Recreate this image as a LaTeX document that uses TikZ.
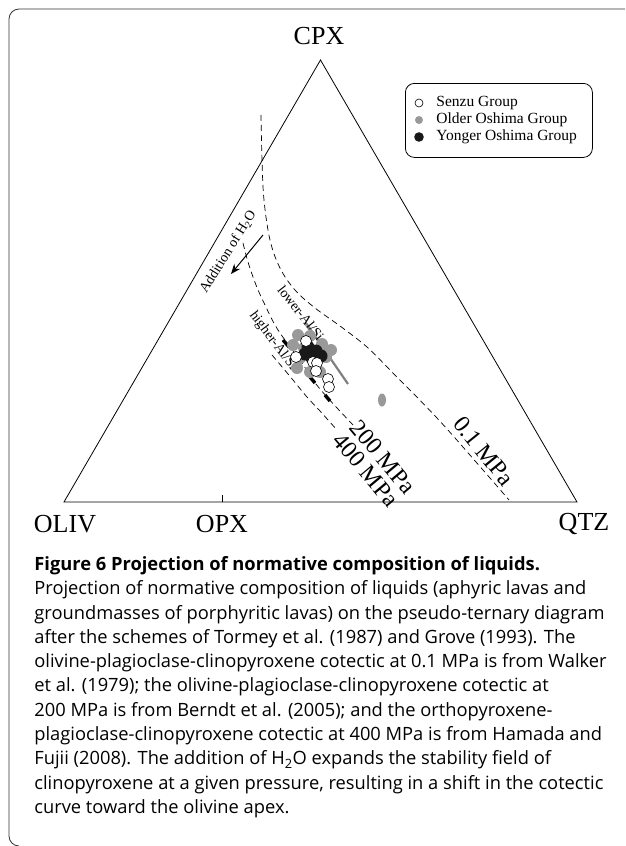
\documentclass[tikz,border=0pt]{standalone}
\usepackage{fontspec}
\setmainfont{Liberation Serif}
\newfontfamily\capfont{Open Sans}
\usetikzlibrary{arrows.meta}

\begin{document}
\begin{tikzpicture}[x=1pt, y=-1pt, line width=0.8pt,
    cotectic/.style={dash pattern=on 6pt off 4pt, line width=0.7pt},
    apexlabel/.style={font=\fontsize{26}{26}\selectfont, inner sep=0pt},
    pressure/.style={font=\fontsize{24}{24}\selectfont, inner sep=0pt},
    smalllabel/.style={font=\fontsize{14}{14}\selectfont, inner sep=0pt},
    legendtext/.style={font=\fontsize{15.5}{15.5}\selectfont, anchor=west, inner sep=0pt},
    senzu/.style={draw=black, fill=white, line width=0.6pt},
    older/.style={fill=black!40},
    younger/.style={fill=black!90},
    alsi/.style={line width=3.4pt}]
  \useasboundingbox (0,0) rectangle (625,846);

  % frame
  \draw[black!80, rounded corners=10pt] (625,9) -| (9,846) -- (18,846);

  % ternary
  \coordinate (cpxV) at (320.5,60);
  \coordinate (olivV) at (64,502);
  \coordinate (qtzV) at (577,502);
  \coordinate (opxV) at (222,502);
  \coordinate (opxT) at (222,495);
  \draw (olivV) -- (cpxV) -- (qtzV) -- cycle;
  \draw (opxV) -- (opxT);

  \node[apexlabel] (cpx) at (319,36) {CPX};
  \node[apexlabel] (oliv) at (65,524) {OLIV};
  \node[apexlabel] (opx) at (222,524) {OPX};
  \node[apexlabel] (qtz) at (584,524) {QTZ};

  % cotectics
  \draw[cotectic] plot[smooth, tension=0.6] coordinates {(261,115) (262,160) (264,200) (270,240)
    (280,268) (295,290) (315,308) (340,326) (367,347) (390,370) (437,418) (483,470) (509,500)};
  \draw[cotectic] plot[smooth, tension=0.6] coordinates {(243,243) (248,262) (256,285) (265,305)
    (278,330) (300,360) (313,380) (327,397) (353,425)};
  \draw[cotectic] plot[smooth, tension=0.6] coordinates {(272,355) (283,368) (293,380) (307,397)
    (320,411) (337,430)};

  \node[pressure, rotate=-51] (p01) at (484,451) {0.1 MPa};
  \node[pressure, rotate=-50] (p200) at (383,457) {200 MPa};
  \node[pressure, rotate=-50] (p400) at (366,470) {400 MPa};

  % water arrow
  \coordinate (h2oTail) at (263,235);
  \coordinate (h2oHead) at (231,274);
  \draw[-{Stealth[length=10pt, width=8pt]}, line width=1pt] (h2oTail) -- (h2oHead);
  \node[smalllabel, rotate=58] (h2o) at (228,252) {Addition of H\textsubscript{2}O};

  % Al/Si trends
  \coordinate (lowA) at (306,323);
  \coordinate (lowB) at (348,384);
  \draw[black!50, line width=2.2pt] (lowA) -- (lowB);
  \node[smalllabel, rotate=-52] (lowAl) at (301,313) {lower-Al/Si};
  \node[smalllabel, rotate=-53] (highAl) at (273,341) {higher-Al/Si};
  \draw[alsi] (283,340) -- (289,347);
  \draw[alsi] (296,360) -- (301,367);
  \draw[alsi] (310,377) -- (315,383);
  \draw[alsi] (325,395) -- (330,401);

  % samples
  \foreach \p in {(293,345),(298,335),(300,358),(310,336),(322,344),(326,357),
                  (320,372),(310,372),(297,368),(331,350),(304,348)}
    \fill[older] \p circle (6);
  \fill[older] (382,400) ellipse (4 and 6.5);
  \foreach \p in {(308,347),(316,351),(312,358),(321,356),(305,354)}
    \fill[younger] \p circle (6.5);
  \foreach \p in {(306,341),(296,357),(313,362),(317,363),(316,371),(328,379),(329,387)}
    \draw[senzu] \p circle (5.5);

  % legend
  \node[draw, rounded corners=9pt, line width=0.8pt, minimum width=187pt, minimum height=74pt,
        anchor=north west, inner sep=0pt] (legend) at (405,83) {};
  \draw[senzu] (419,103) circle (4);
  \fill[older] (419,120) circle (4);
  \fill[younger] (419,137) circle (4.8);
  \node[legendtext] (senzuL) at (436,103) {Senzu Group};
  \node[legendtext] (olderL) at (436,120) {Older Oshima Group};
  \node[legendtext] (youngerL) at (436,137) {Yonger Oshima Group};

  % caption
  \node[anchor=north west, inner sep=0pt, align=left,
        font=\capfont\fontsize{18.3}{24.3}\selectfont] (caption) at (34,556)
  {\textbf{Figure 6 Projection of normative composition of liquids.}\\
   Projection of normative composition of liquids (aphyric lavas and\\
   groundmasses of porphyritic lavas) on the pseudo-ternary diagram\\
   after the schemes of Tormey et al. (1987) and Grove (1993). The\\
   olivine-plagioclase-clinopyroxene cotectic at 0.1 MPa is from Walker\\
   et al. (1979); the olivine-plagioclase-clinopyroxene cotectic at\\
   200 MPa is from Berndt et al. (2005); and the orthopyroxene-\\
   plagioclase-clinopyroxene cotectic at 400 MPa is from Hamada and\\
   Fujii (2008). The addition of H\textsubscript{2}O expands the stability field of\\
   clinopyroxene at a given pressure, resulting in a shift in the cotectic\\
   curve toward the olivine apex.};
\end{tikzpicture}
\end{document}
